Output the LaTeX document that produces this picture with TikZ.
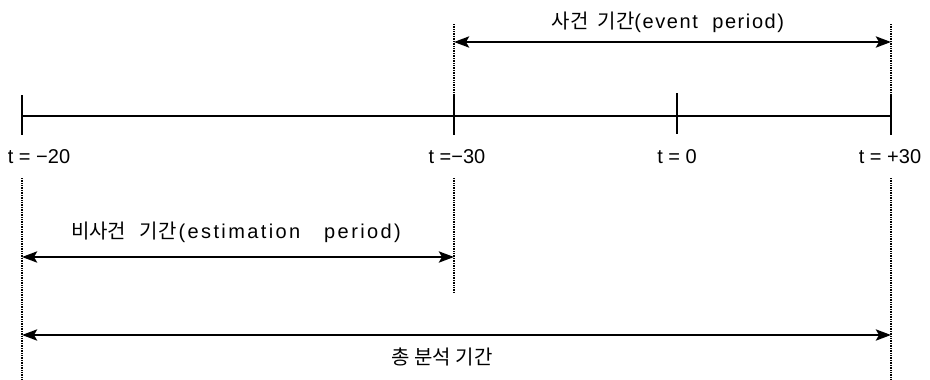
\documentclass[tikz,border=0pt]{standalone}
\usepackage{fontspec}
\setmainfont{Liberation Sans}
\newfontfamily\kr{Noto Sans CJK KR}
\newfontfamily\wide[LetterSpace=8]{Liberation Sans}
\newfontfamily\wider[LetterSpace=12]{Liberation Sans}
\usetikzlibrary{arrows.meta}
\begin{document}
\begin{tikzpicture}[x=1pt,y=-1pt,
  axisline/.style={line width=2.8pt},
  guide/.style={line width=1.3pt, dash pattern=on 1pt off 0.7pt},
  span/.style={line width=2.8pt, {Stealth[length=15pt,width=11pt,inset=3pt]}-{Stealth[length=15pt,width=11pt,inset=3pt]}},
  lbl/.style={font=\fontsize{20}{24}\selectfont, inner sep=0pt, anchor=center}
]
\useasboundingbox (0,0) rectangle (930,380);
% tick end points
\coordinate (aT) at (22,95);  \coordinate (aB) at (22,135);
\coordinate (bT) at (454,95); \coordinate (bB) at (454,135);
\coordinate (cT) at (677,93); \coordinate (cB) at (677,134);
\coordinate (dT) at (891,95); \coordinate (dB) at (891,135);
\coordinate (a) at (22,116); \coordinate (b) at (454,116);
\coordinate (c) at (677,116); \coordinate (d) at (891,116);
% guide end points
\coordinate (bTop) at (454,24); \coordinate (dTop) at (891,24);
\coordinate (aLow) at (22,178); \coordinate (bLow) at (454,178); \coordinate (dLow) at (891,178);
\coordinate (aEnd) at (22,380); \coordinate (bEnd) at (454,292); \coordinate (dEnd) at (891,380);
% arrow end points
\coordinate (evL) at (454,42); \coordinate (evR) at (891,42);
\coordinate (esL) at (22,257); \coordinate (esR) at (454,257);
\coordinate (toL) at (22,335); \coordinate (toR) at (891,335);

% axis
\draw[axisline] (a) -- (d);
\draw[axisline] (aT) -- (aB);
\draw[axisline] (bT) -- (bB);
\draw[axisline] (cT) -- (cB);
\draw[axisline] (dT) -- (dB);

% labels
\node[lbl] (la) at (39,157) {t = −20};
\node[lbl] (lb) at (457,157) {t =−30};
\node[lbl] (lc) at (677,157) {t = 0};
\node[lbl] (ld) at (890,157) {t = +30};

% guides
\draw[guide] (bTop) -- (bT);
\draw[guide] (dTop) -- (dT);
\draw[guide] (aLow) -- (aEnd);
\draw[guide] (bLow) -- (bEnd);
\draw[guide] (dLow) -- (dEnd);

% spans
\draw[span] (evL) -- (evR);
\draw[span] (esL) -- (esR);
\draw[span] (toL) -- (toR);

\node[lbl] (lev) at (668,22) {{\kr 사건\ \ 기간}{\wide (event\ \ period)}};
\node[lbl] (les) at (236,232) {{\kr 비사건\ \ \ 기간}\hspace{2pt}{\wider (estimation\ \ \ period)}};
\node[lbl] (lto) at (442,357) {\kr 총\ 분석\ 기간};
\end{tikzpicture}
\end{document}
